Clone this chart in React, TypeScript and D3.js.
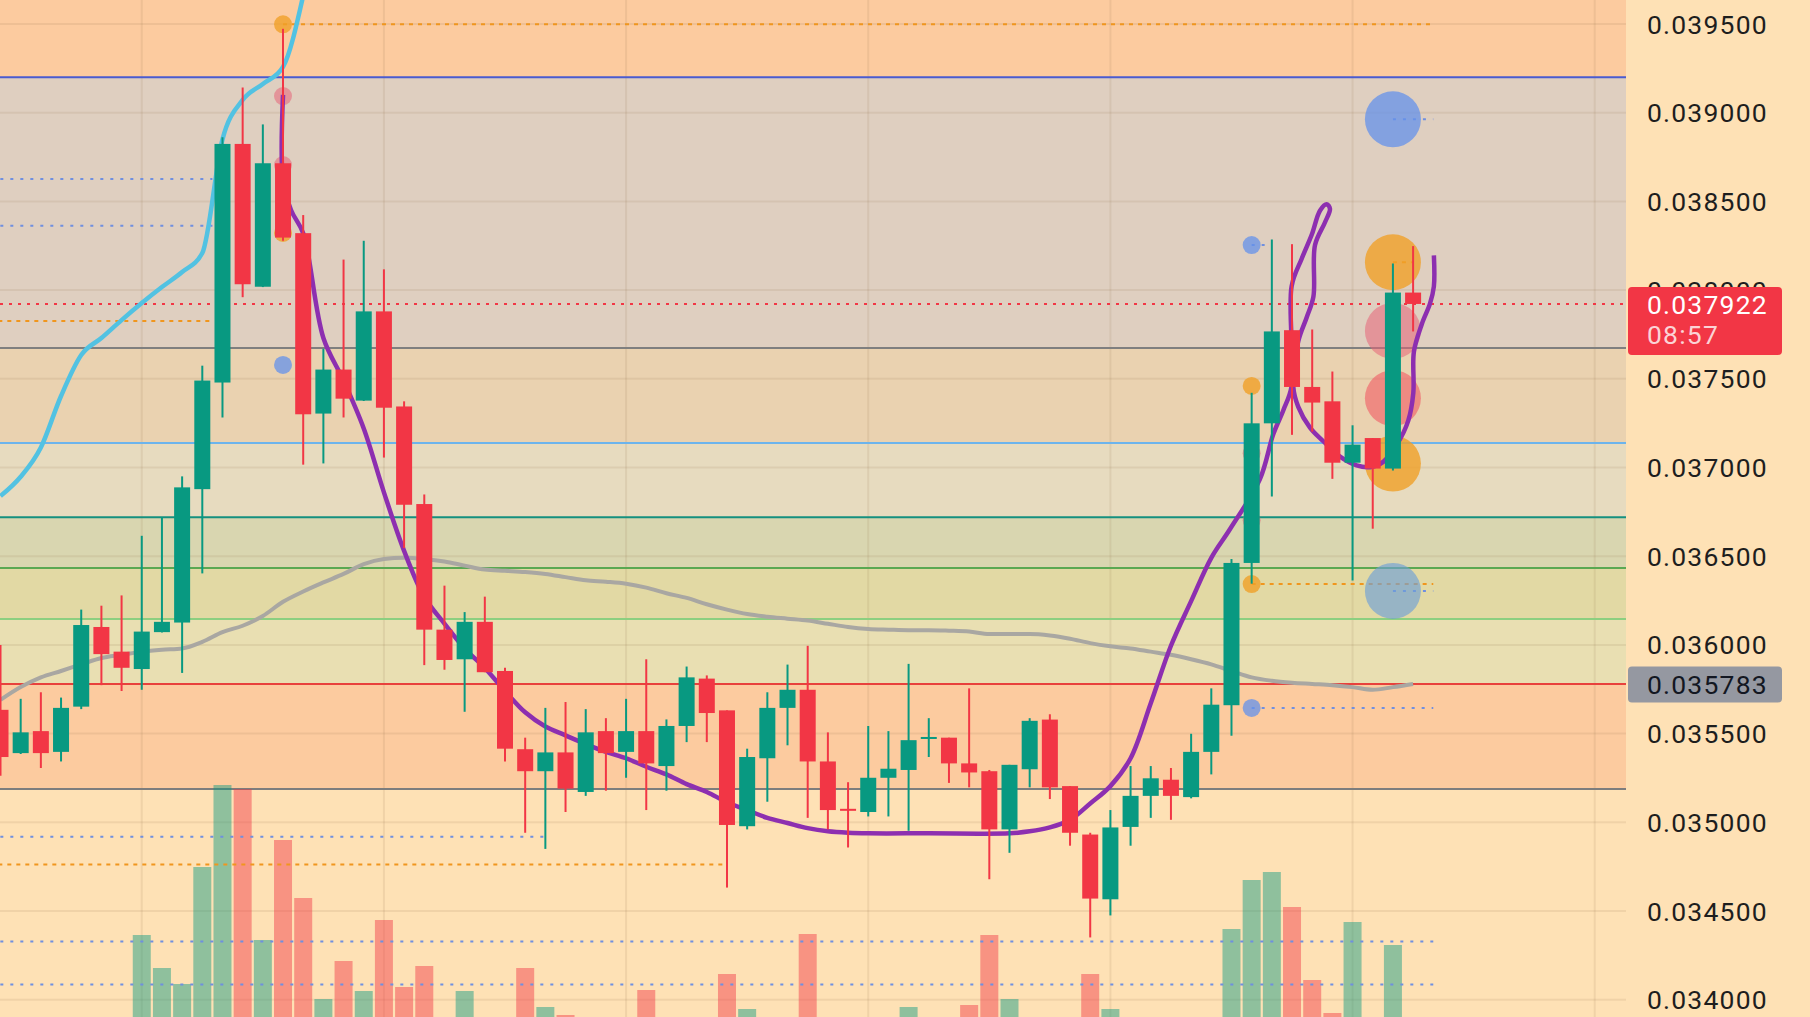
import * as d3 from "d3";

// candles, oldest -> newest
const OPEN = [0.035634,0.03539,0.035514,0.035397,0.035652,0.036101,0.035962,0.035864,0.036072,0.036126,0.036878,0.037479,0.038824,0.038019,0.038715,0.038321,0.037304,0.037552,0.037377,0.03788,0.037344,0.036794,0.036086,0.035919,0.03613,0.035853,0.035412,0.035288,0.035394,0.035171,0.035514,0.035397,0.035514,0.035317,0.035543,0.03581,0.035631,0.034978,0.035361,0.035645,0.035747,0.035343,0.035076,0.035058,0.035251,0.035295,0.035474,0.035477,0.035332,0.035288,0.03496,0.035299,0.035579,0.035204,0.034931,0.034566,0.034974,0.035149,0.03524,0.035142,0.035397,0.03566,0.036462,0.037249,0.037774,0.037454,0.037373,0.037027,0.037166,0.036994,0.037986];
const HIGH = [0.035999,0.035696,0.035733,0.035703,0.036199,0.036221,0.036279,0.036615,0.036721,0.03695,0.037574,0.038861,0.039142,0.038934,0.039473,0.038423,0.037669,0.038172,0.038278,0.038117,0.037373,0.036848,0.036334,0.036185,0.036272,0.035871,0.035477,0.035645,0.035678,0.035638,0.035587,0.035696,0.035919,0.03558,0.035878,0.035828,0.035631,0.035415,0.035733,0.035889,0.035995,0.035507,0.035226,0.035543,0.035514,0.035893,0.035587,0.035477,0.035755,0.035295,0.035324,0.035587,0.035609,0.035204,0.034941,0.035069,0.035317,0.035317,0.035306,0.035499,0.035755,0.036484,0.037421,0.038285,0.038259,0.037778,0.037541,0.037238,0.037166,0.03815,0.038248];
const LOW = [0.035262,0.035385,0.035306,0.035343,0.035638,0.035773,0.03574,0.035747,0.03607,0.035842,0.036403,0.037282,0.03796,0.038017,0.038278,0.037016,0.037023,0.037282,0.037375,0.037056,0.036546,0.035886,0.03586,0.035623,0.035846,0.035343,0.034941,0.03485,0.035058,0.035149,0.035178,0.035251,0.035069,0.035178,0.035452,0.035452,0.034632,0.03496,0.035116,0.035434,0.035025,0.03496,0.034858,0.035033,0.035033,0.034952,0.035368,0.035222,0.035197,0.034679,0.034828,0.035197,0.035131,0.034868,0.034351,0.034475,0.034868,0.035025,0.035014,0.035135,0.03527,0.035488,0.036345,0.036837,0.037184,0.037202,0.036936,0.036363,0.036655,0.036983,0.037767];
const CLOSE = [0.035368,0.035507,0.03539,0.035645,0.036112,0.035948,0.035871,0.036075,0.03613,0.036888,0.03749,0.038824,0.038033,0.038715,0.038296,0.0373,0.037552,0.037388,0.03788,0.037337,0.03679,0.036086,0.035915,0.03613,0.035846,0.035415,0.035288,0.035394,0.03519,0.035507,0.03539,0.035514,0.035332,0.035543,0.035817,0.035616,0.034985,0.035368,0.035645,0.035747,0.035343,0.035069,0.035072,0.035251,0.035302,0.035463,0.035481,0.035332,0.035281,0.03496,0.035324,0.035572,0.035197,0.034941,0.03457,0.034971,0.035149,0.035248,0.035149,0.035397,0.035663,0.036462,0.037249,0.037767,0.037454,0.037366,0.037027,0.037129,0.036994,0.037986,0.037922];
const VOLUME = [0,0,0,0,0,0,0,82,49,33,150,232,228,77,177,119,18,56,26,97,30,51,0,26,0,0,49,10,2,0,0,0,27,0,0,0,43,8,0,0,83,0,0,0,0,10,0,0,12,82,18,0,0,0,43,8,0,0,0,0,0,88,137,145,110,37,4,95,0,72,0];

// indicator lines
const MA = [0.03569,0.035762,0.035817,0.035853,0.03589,0.035926,0.035944,0.035962,0.035973,0.03598,0.036017,0.036072,0.036108,0.036163,0.036243,0.036301,0.036352,0.0364,0.036455,0.036484,0.036491,0.036484,0.03647,0.036447,0.036425,0.036418,0.036411,0.0364,0.036382,0.036364,0.036356,0.036345,0.036323,0.036291,0.036265,0.036229,0.036199,0.036174,0.036159,0.036148,0.036137,0.036119,0.036101,0.03609,0.036086,0.036083,0.036083,0.03608,0.036075,0.036061,0.036061,0.036061,0.036053,0.036035,0.03601,0.035992,0.03598,0.035962,0.035944,0.035919,0.03589,0.035853,0.035817,0.035798,0.035787,0.03578,0.035773,0.035762,0.035747,0.035762,0.03578];
const UPPER = [0.036839,0.036948,0.037113,0.037403,0.037634,0.03773,0.037831,0.037927,0.038017,0.038102,0.038209,0.03885,0.039072,0.039162,0.039258,0.03966];
const TREND: [number, number][] = [
  [14,0.0391],[14,0.03862],[14.4,0.03845],[15,0.03832],[16,0.03773],[17,0.03749],[18,0.03722],[19,0.03686],[20,0.03653],[21,0.03627],[22,0.03612],[23,0.03598],[24,0.03587],[25,0.03574],[26,0.03562],[27,0.03554],[28,0.03549],[29,0.035441],[30,0.035397],[31,0.035361],[32,0.035313],[33,0.03527],[34,0.035215],[35,0.035171],[36,0.035113],[37,0.035069],[38,0.035025],[39,0.034996],[40,0.034967],[41,0.034949],[42,0.034941],[43,0.034938],[46,0.034938],[50,0.034938],[51,0.034949],[52,0.034971],[53,0.035014],[54,0.035106],[55,0.035204],[56,0.035361],[57,0.035671],[58,0.035995],[59,0.036247],[60,0.036491],[60.93,0.036653],[62.41,0.036935],[63.07,0.037187],[63.57,0.037323],[63.98,0.037459],[63.98,0.038021],[64.48,0.038177],[64.98,0.038313],[65.39,0.038449],[65.72,0.038484],[65.88,0.038458],[65.63,0.038381],[65.14,0.038254],[65.06,0.037963],[64.73,0.037847],[64.31,0.037711],[64.06,0.037459],[64.31,0.037342],[64.89,0.037225],[65.55,0.037148],[66.38,0.037061],[67.2,0.037012],[67.86,0.037002],[68.52,0.037032],[69.19,0.037128],[69.76,0.037264],[70.01,0.03742],[70.04,0.037653],[70.43,0.037808],[70.84,0.037925],[71.03,0.038021],[71.03,0.038196],
];

// horizontal levels (top -> bottom)
const LEVELS = [0.0392, 0.037674, 0.037138, 0.03672, 0.036433, 0.036146, 0.03578, 0.035188];

// signal markers [index, price, kind]
const SMALL_MARKS: [number, number, string][] = [
  [14,0.039498,"orange"],[14,0.039094,"pink"],[14,0.038705,"pink"],[14,0.038322,"orange"],[14,0.037578,"blue"],
  [62,0.038254,"blue"],[62,0.03746,"orange"],[62,0.03708,"pink"],[62,0.036702,"pink"],[62,0.036343,"orange"],[62,0.035645,"blue"],
];
const BIG_MARKS: [number, number, string][] = [
  [69,0.038963,"blue"],[69,0.038157,"orange"],[69,0.03777,"pink"],[69,0.037391,"red"],[69,0.037022,"orange"],[69,0.036304,"steel"],
];
// dotted guide lines [from index, to index, price, kind]
const GUIDES: [number, number, number, string][] = [
  [14,71,0.039498,"orange"],[-1,10.5,0.038626,"blue"],[-1,10.5,0.038363,"blue"],[-1,10.5,0.037826,"orange"],
  [-1,27,0.034919,"blue"],[-1,35.8,0.034762,"orange"],[-1,71,0.034328,"blue"],[-1,71,0.034086,"blue"],
  [62,71,0.036343,"orange"],[62,71,0.035645,"blue"],[62,63,0.038254,"blue"],
  [69,71,0.038963,"blue"],[69,70,0.038157,"orange"],[69,71,0.036304,"blue"],
];

const TICKS = [0.0395,0.039,0.0385,0.038,0.0375,0.037,0.0365,0.036,0.0355,0.035,0.0345,0.034];
const LAST_PRICE = 0.037922;
const COUNTDOWN = "08:57";
const MA_LAST = 0.035783;
const GRID_IDX = [7, 19, 31, 43, 55, 67, 79];

const W = 1810;
const H = 1017;
const PLOT_R = 1626;
const UP = "#089981";
const DOWN = "#f23645";
const BG = "#fee1b5";
const TOP_BAND = "#fccb9f";
const BAND_FILL = ["#dfcfc0", "#ead2b0", "#e7dbbf", "#d9d6b0", "#e2d9a4", "#e9dfb2", "#fccb9f"];
const LEVEL_STROKE = ["#4a5bd0", "#7f7f7f", "#6cb4ec", "#15907f", "#5aa852", "#8ccf80", "#e8413c", "#7d7d7d"];
const MARK_FILL: Record<string, string> = {
  orange: "rgba(240,160,40,0.8)", pink: "rgba(230,100,120,0.55)", blue: "rgba(100,145,235,0.75)",
  red: "rgba(240,90,100,0.6)", steel: "rgba(110,160,215,0.65)",
};
const GUIDE_STROKE: Record<string, string> = { orange: "#f0961e", blue: "#6f8fe0" };

export default function App() {
  const y = d3.scaleLinear().domain([0.034, 0.0395]).range([999.7, 24]);
  const x = d3.scaleLinear().domain([0, 70]).range([0.5, 1413.1]);
  const vol = d3.scaleLinear().domain([0, 240]).range([H, H - 240]);
  const fmt = d3.format(".6f");

  const maLine = d3.line<number>().x((_, i) => x(i)).y((d) => y(d)).curve(d3.curveMonotoneX);
  const upperLine = d3.line<number>().x((_, i) => x(i)).y((d) => y(d)).curve(d3.curveMonotoneX);
  const trendLine = d3.line<[number, number]>().x((d) => x(d[0])).y((d) => y(d[1])).curve(d3.curveCatmullRom.alpha(0.5));

  const bodyW = 16;
  const volW = 18;

  return (
    <svg width={W} height={H} style={{ position: "absolute", left: 0, top: 0, display: "block", background: BG }}
      fontFamily="Roboto, 'Noto Sans', sans-serif">
      <defs>
        <clipPath id="plot"><rect x={0} y={0} width={PLOT_R} height={H} /></clipPath>
      </defs>
      <rect x={0} y={0} width={W} height={H} fill={BG} />
      <g clipPath="url(#plot)">
        {/* bands */}
        <rect x={0} y={0} width={PLOT_R} height={y(LEVELS[0])} fill={TOP_BAND} />
        {LEVELS.slice(0, -1).map((lv, i) => (
          <rect key={i} x={0} y={y(lv)} width={PLOT_R} height={y(LEVELS[i + 1]) - y(lv)} fill={BAND_FILL[i]} />
        ))}
        {/* grid */}
        {TICKS.map((t) => (
          <line key={t} x1={0} x2={PLOT_R} y1={y(t)} y2={y(t)} stroke="rgba(150,115,80,0.13)" strokeWidth={2} />
        ))}
        {GRID_IDX.map((g) => (
          <line key={g} x1={x(g)} x2={x(g)} y1={0} y2={H} stroke="rgba(150,115,80,0.13)" strokeWidth={2} />
        ))}
        {/* levels */}
        {LEVELS.map((lv, i) => (
          <line key={i} x1={0} x2={PLOT_R} y1={y(lv)} y2={y(lv)} stroke={LEVEL_STROKE[i]} strokeWidth={2} />
        ))}
        {/* volume */}
        {VOLUME.map((v, i) => v > 0 && (
          <rect key={i} x={x(i) - volW / 2} y={vol(v)} width={volW} height={vol(0) - vol(v)}
            fill={CLOSE[i] >= OPEN[i] ? UP : DOWN} fillOpacity={0.45} />
        ))}
        {/* guides */}
        {GUIDES.map((g, i) => (
          <line key={i} x1={x(g[0])} x2={x(g[1])} y1={y(g[2])} y2={y(g[2])} stroke={GUIDE_STROKE[g[3]]}
            strokeWidth={2} strokeDasharray={g[3] === "orange" ? "4 5" : "3 7"} />
        ))}
        <line x1={0} x2={PLOT_R} y1={y(LAST_PRICE)} y2={y(LAST_PRICE)} stroke={DOWN} strokeWidth={2} strokeDasharray="3 6" />
        {/* indicators */}
        <path d={upperLine(UPPER) ?? ""} fill="none" stroke="#52c2e2" strokeWidth={4.5} />
        <path d={maLine(MA) ?? ""} fill="none" stroke="#a9a7a2" strokeWidth={4} />
        {BIG_MARKS.map((m, i) => (
          <circle key={i} cx={x(m[0])} cy={y(m[1])} r={28} fill={MARK_FILL[m[2]]} />
        ))}
        {SMALL_MARKS.map((m, i) => (
          <circle key={i} cx={x(m[0])} cy={y(m[1])} r={9} fill={MARK_FILL[m[2]]} />
        ))}
        <path d={trendLine(TREND) ?? ""} fill="none" stroke="#8d2fb0" strokeWidth={4.5} strokeLinejoin="round" />
        {/* candles */}
        {OPEN.map((o, i) => {
          const c = CLOSE[i];
          const col = c >= o ? UP : DOWN;
          const top = y(Math.max(o, c));
          const h = Math.max(2, y(Math.min(o, c)) - top);
          return (
            <g key={i}>
              <line x1={x(i)} x2={x(i)} y1={y(HIGH[i])} y2={y(LOW[i])} stroke={col} strokeWidth={2} />
              <rect x={x(i) - bodyW / 2} y={top} width={bodyW} height={h} fill={col} />
            </g>
          );
        })}
      </g>
      {/* price axis */}
      {TICKS.map((t) => (
        <text key={t} x={1647} y={y(t)} dominantBaseline="central" fontSize={26.5} letterSpacing={1.2} fill="#1e1e1e">
          {fmt(t)}
        </text>
      ))}
      <rect x={1628} y={y(LAST_PRICE) - 17} width={154} height={68} rx={4} fill={DOWN} />
      <text x={1647} y={y(LAST_PRICE) + 1} dominantBaseline="central" fontSize={26.5} letterSpacing={1.2} fill="#ffffff">
        {fmt(LAST_PRICE)}
      </text>
      <text x={1647} y={y(LAST_PRICE) + 31} dominantBaseline="central" fontSize={26.5} letterSpacing={1.2} fill="#fbd3d6">
        {COUNTDOWN}
      </text>
      <rect x={1628} y={y(MA_LAST) - 17} width={154} height={36} rx={4} fill="#9598a1" />
      <text x={1647} y={y(MA_LAST) + 1} dominantBaseline="central" fontSize={26.5} letterSpacing={1.2} fill="#131722">
        {fmt(MA_LAST)}
      </text>
    </svg>
  );
}
